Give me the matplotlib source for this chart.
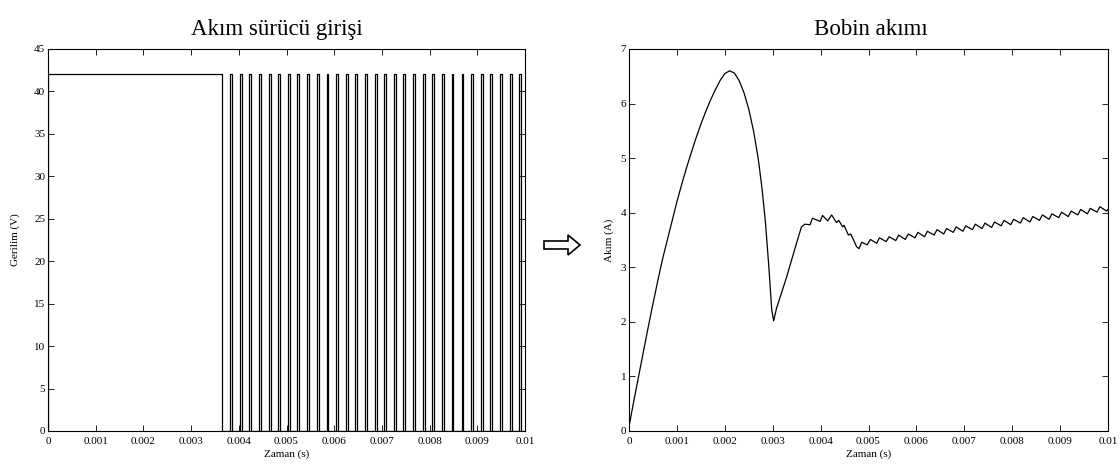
import numpy as np
import matplotlib
matplotlib.use('Agg')
import matplotlib.pyplot as plt
from matplotlib.patches import FancyArrow

plt.rcParams['font.family'] = ['Liberation Serif', 'DejaVu Serif']

# Left plot: driver input voltage (V)
level = 42
first_high_end = 0.00364
pulse_width = 0.00004
pulse_starts = [0.00382, 0.00402, 0.00422, 0.00443, 0.00463, 0.00483, 0.00503,
                0.00523, 0.00544, 0.00564, 0.00584, 0.00604, 0.00624, 0.00644,
                0.00665, 0.00685, 0.00705, 0.00725, 0.00745, 0.00766, 0.00786,
                0.00806, 0.00826, 0.00846, 0.00867, 0.00887, 0.00907, 0.00927,
                0.00947, 0.00968, 0.00988]

# Right plot: coil current (A)
t_cur = [0, 0.0001, 0.0002, 0.0003, 0.0004, 0.0005, 0.0006, 0.0007, 0.0008,
         0.0009, 0.0010, 0.0011, 0.0012, 0.0013, 0.0014, 0.0015, 0.0016,
         0.0017, 0.0018, 0.0019, 0.0020, 0.0021, 0.0022, 0.0023, 0.0024,
         0.0025, 0.0026, 0.0027, 0.00278, 0.00285, 0.00292, 0.00298, 0.00302,
         0.00308, 0.00318, 0.00329, 0.0034, 0.0035, 0.0036, 0.00367, 0.00378,
         0.00383, 0.00399, 0.00404, 0.00415, 0.00423, 0.00433, 0.00438,
         0.00446, 0.00449, 0.00458, 0.00463, 0.00475, 0.0048, 0.00486,
         0.00497, 0.00504, 0.00517, 0.00523, 0.00537, 0.00543, 0.00557,
         0.00563, 0.00577, 0.00583, 0.00597, 0.00603, 0.00617, 0.00623,
         0.00637, 0.00643, 0.00657, 0.00663, 0.00677, 0.00683, 0.00697,
         0.00703, 0.00717, 0.00723, 0.00737, 0.00743, 0.00757, 0.00763,
         0.00777, 0.00783, 0.00797, 0.00803, 0.00817, 0.00823, 0.00837,
         0.00843, 0.00857, 0.00863, 0.00877, 0.00883, 0.00897, 0.00903,
         0.00917, 0.00923, 0.00937, 0.00943, 0.00957, 0.00963, 0.00977,
         0.00983, 0.00997, 0.01]
i_cur = [0.08, 0.55, 1.0, 1.45, 1.9, 2.33, 2.75, 3.15, 3.5,
         3.85, 4.2, 4.52, 4.82, 5.1, 5.37, 5.62, 5.85,
         6.06, 6.25, 6.42, 6.55, 6.6, 6.56, 6.42, 6.2,
         5.9, 5.5, 4.98, 4.42, 3.81, 3.0, 2.22, 2.02,
         2.25, 2.52, 2.82, 3.15, 3.45, 3.74, 3.79, 3.78,
         3.9, 3.84, 3.95, 3.85, 3.96, 3.82, 3.86,
         3.74, 3.77, 3.59, 3.61, 3.38, 3.34, 3.46,
         3.41, 3.51, 3.44, 3.54, 3.47, 3.56, 3.49,
         3.59, 3.51, 3.61, 3.54, 3.64, 3.56, 3.66,
         3.59, 3.69, 3.61, 3.71, 3.64, 3.74, 3.66,
         3.76, 3.69, 3.79, 3.71, 3.81, 3.73, 3.83,
         3.76, 3.86, 3.78, 3.88, 3.81, 3.91, 3.83,
         3.93, 3.86, 3.96, 3.88, 3.98, 3.91, 4.01,
         3.93, 4.03, 3.96, 4.06, 3.98, 4.08, 4.01,
         4.11, 4.03, 4.06]

x_ticks = [0, 0.001, 0.002, 0.003, 0.004, 0.005, 0.006, 0.007, 0.008, 0.009, 0.01]
x_ticklabels = ['0', '0.001', '0.002', '0.003', '0.004', '0.005', '0.006',
                '0.007', '0.008', '0.009', '0.01']

# build the step waveform from the pulse list
t_v = [0, 0, first_high_end, first_high_end]
v_v = [0, level, level, 0]
for ps in pulse_starts:
    t_v += [ps, ps, ps + pulse_width, ps + pulse_width]
    v_v += [0, level, level, 0]
t_v.append(0.01)
v_v.append(0)

fig = plt.figure(figsize=(11.2, 4.67), dpi=100)
ax1 = fig.add_axes([48 / 1120, 1 - 431 / 467, 477 / 1120, 382 / 467])
ax2 = fig.add_axes([629 / 1120, 1 - 431 / 467, 479 / 1120, 382 / 467])

ax1.plot(t_v, v_v, color='black', linewidth=0.9)
ax1.set_ylim(0, 45)
ax1.set_yticks(range(0, 46, 5))
ax1.set_ylabel('Gerilim (V)', fontsize=8, labelpad=10)
ax1.set_title('Akım sürücü girişi', fontsize=16.5, pad=10, x=0.48)

ax2.plot(t_cur, i_cur, color='black', linewidth=0.9)
ax2.set_ylim(0, 7)
ax2.set_yticks(range(0, 8))
ax2.set_ylabel('Akım (A)', fontsize=8, labelpad=5)
ax2.set_title('Bobin akımı', fontsize=16.5, pad=10, x=0.505)

for ax in (ax1, ax2):
    ax.set_xlim(0, 0.01)
    ax.set_xticks(x_ticks)
    ax.set_xticklabels(x_ticklabels)
    ax.set_xlabel('Zaman (s)', fontsize=8, labelpad=3)
    ax.tick_params(direction='in', top=True, right=True, labelsize=8,
                   length=4, width=0.6, pad=2)
    ax.tick_params(axis='x', pad=4)
    for s in ax.spines.values():
        s.set_linewidth(0.8)

# hollow arrow between the two plots
arrow = FancyArrow(544 / 1120, 1 - 245 / 467, 36 / 1120, 0,
                   width=8 / 467, head_width=20 / 467, head_length=12 / 1120,
                   length_includes_head=True, transform=fig.transFigure,
                   facecolor='white', edgecolor='black', linewidth=1.2)
fig.patches.append(arrow)

fig.savefig('out.png', dpi=100)
